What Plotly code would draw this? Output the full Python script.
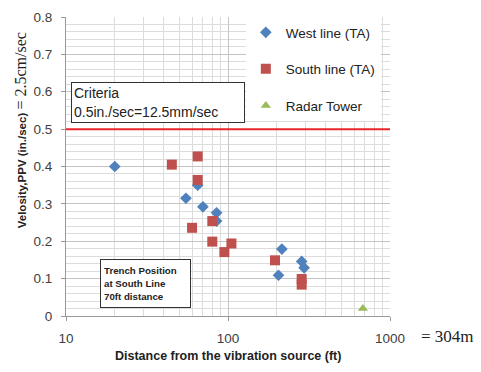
import plotly.graph_objects as go

# Measured peak particle velocities (in./sec) against distance (ft)
west_dist = [20, 55, 65, 70, 85, 85, 205, 215, 285, 295]
west_ppv = [0.40, 0.315, 0.35, 0.292, 0.276, 0.254, 0.109, 0.179, 0.146, 0.129]

south_dist = [45, 65, 65, 60, 80, 80, 105, 95, 195, 285, 285]
south_ppv = [0.405, 0.427, 0.364, 0.236, 0.254, 0.199, 0.194, 0.171, 0.149, 0.099, 0.084]

radar_dist = [680]
radar_ppv = [0.02]

criteria_ppv = 0.5
x_tickvals = [10, 100, 1000]
x_ticktext = ["10", "100", "1000"]
y_tickvals = [0, 0.1, 0.2, 0.3, 0.4, 0.5, 0.6, 0.7, 0.8]
y_ticktext = ["0", "0.1", "0.2", "0.3", "0.4", "0.5", "0.6", "0.7", "0.8"]

SANS = "Liberation Sans"
SERIF = "Liberation Serif"
TICK_COLOR = "#404040"

fig = go.Figure()

fig.add_trace(go.Scatter(
    x=west_dist, y=west_ppv, mode="markers", name="West line (TA)",
    legendgroup="w",
    marker=dict(symbol="diamond", size=9, color="#4F81BD"),
))
fig.add_trace(go.Scatter(
    x=south_dist, y=south_ppv, mode="markers", name="South line (TA)",
    legendgroup="s",
    marker=dict(symbol="square", size=10, color="#C0504D"),
))
fig.add_trace(go.Scatter(
    x=radar_dist, y=radar_ppv, mode="markers", name="Radar Tower",
    legendgroup="r",
    marker=dict(symbol="triangle-up", size=9, color="#9BBB59"),
))

# Criteria threshold line
fig.add_shape(type="line", xref="paper", x0=0, x1=1, yref="y",
              y0=criteria_ppv, y1=criteria_ppv,
              line=dict(color="#E8262A", width=2), layer="above")

fig.add_annotation(
    xref="paper", yref="paper", x=0.016, y=0.782, xanchor="left", yanchor="top",
    text="Criteria<br>0.5in./sec=12.5mm/sec", align="left", showarrow=False,
    width=168, height=35,
    font=dict(family=SANS, size=14, color="#222222"),
    bgcolor="white", bordercolor="#333333", borderwidth=1, borderpad=2,
)
fig.add_annotation(
    xref="paper", yref="paper", x=0.105, y=0.19, xanchor="left", yanchor="top",
    text="<b>Trench Position<br>at South Line<br>70ft distance</b>", align="left",
    showarrow=False, width=83, height=41,
    font=dict(family=SANS, size=9.7, color="#222222"),
    bgcolor="white", bordercolor="#333333", borderwidth=1, borderpad=3,
)

# Axis titles
fig.add_annotation(
    xref="paper", yref="paper", x=-0.14, y=0.62, xanchor="center", yanchor="middle",
    textangle=-90, showarrow=False,
    text=("<b>Velosity,PPV (in./sec)</b> "
          "<span style='font-family:" + SERIF + ";font-size:16px'>= 2.5cm/sec</span>"),
    font=dict(family=SANS, size=11.5, color="#222222"),
)
fig.add_annotation(
    xref="paper", yref="paper", x=0.5, y=-0.135, xanchor="center", yanchor="middle",
    showarrow=False, text="<b>Distance from the vibration source (ft)</b>",
    font=dict(family=SANS, size=12.5, color="#222222"),
)
fig.add_annotation(
    xref="paper", yref="paper", x=1.09, y=-0.068, xanchor="left", yanchor="middle",
    showarrow=False, text="= 304m",
    font=dict(family=SERIF, size=17, color="#222222"),
)

fig.update_xaxes(
    type="log", range=[1, 3],
    tickvals=x_tickvals, ticktext=x_ticktext,
    showgrid=True, gridcolor="#C4C4C4", gridwidth=1,
    minor=dict(dtick="D1", showgrid=True, gridcolor="#DCDCDC", gridwidth=1),
    showline=True, linecolor="#999999", linewidth=1,
    ticks="outside", ticklen=4, tickcolor="#999999",
    ticklabelstandoff=6,
    tickfont=dict(family=SANS, size=13.5, color=TICK_COLOR),
    zeroline=False, mirror=False,
)
fig.update_yaxes(
    range=[0, 0.8],
    tickvals=y_tickvals, ticktext=y_ticktext,
    showgrid=True, gridcolor="#C4C4C4", gridwidth=1,
    minor=dict(dtick=0.02, showgrid=True, gridcolor="#DCDCDC", gridwidth=1),
    showline=True, linecolor="#999999", linewidth=1,
    ticks="outside", ticklen=4, tickcolor="#999999",
    ticklabelstandoff=6,
    tickfont=dict(family=SANS, size=13.5, color=TICK_COLOR),
    zeroline=False,
)

fig.update_layout(
    width=481, height=372,
    margin=dict(l=66, r=91, t=10, b=56),
    paper_bgcolor="white", plot_bgcolor="white",
    showlegend=True,
    legend=dict(
        x=0.555, y=1.0, xanchor="left", yanchor="top",
        bgcolor="white", borderwidth=0,
        font=dict(family=SANS, size=13.5, color="#222222"),
        tracegroupgap=16, itemwidth=30,
    ),
)

fig.write_html("out.html")
